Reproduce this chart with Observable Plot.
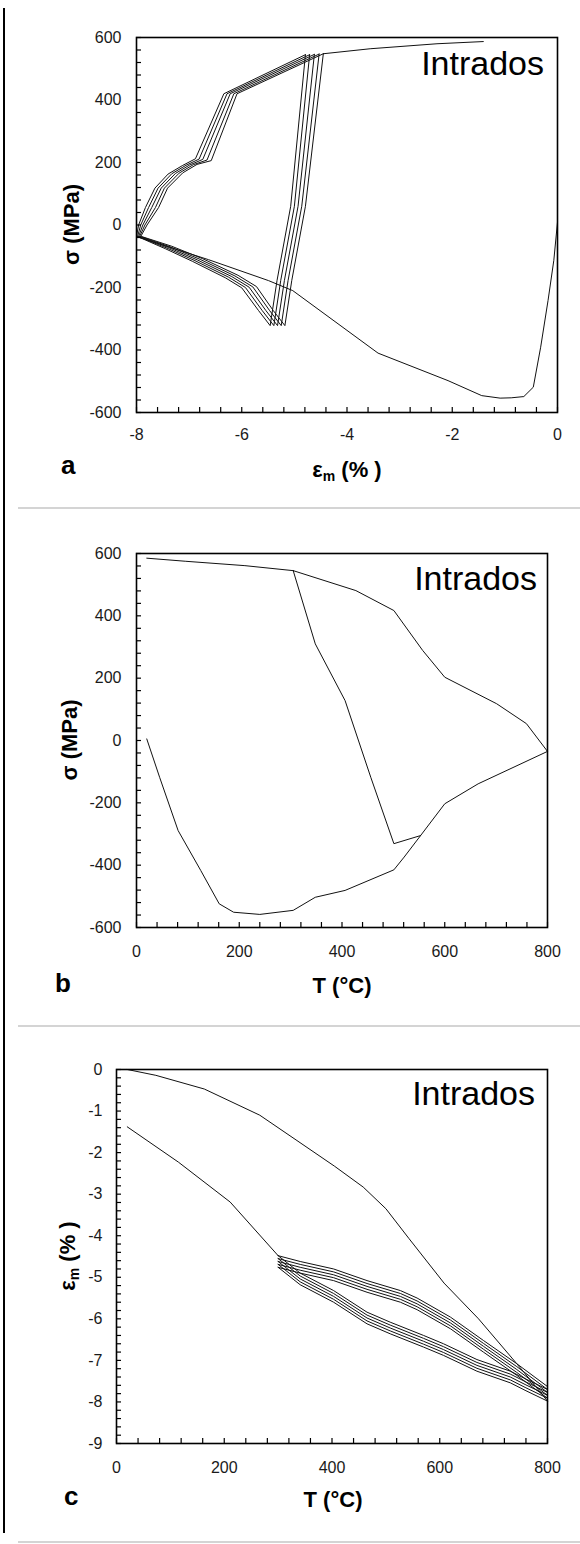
<!DOCTYPE html>
<html>
<head>
<meta charset="utf-8">
<script src="https://cdn.jsdelivr.net/npm/d3@7"></script>
<script src="https://cdn.jsdelivr.net/npm/@observablehq/plot@0.6"></script>
<style>
  body { margin: 0; background: #fff; }
  #root { position: relative; width: 580px; height: 1544px; overflow: hidden; background: #fff; }
  .panel { position: absolute; left: 0; }
  .panel svg { display: block; }
  .sep { position: absolute; left: 18px; width: 562px; height: 2px; background: #d4d4d4; }
  .bar { position: absolute; left: 3px; top: 8px; width: 2px; height: 1525px; background: #000; }
</style>
</head>
<body>
<div id="root">
  <div class="bar"></div>
  <div class="sep" style="top:507px"></div>
  <div class="sep" style="top:1025px"></div>
  <div class="sep" style="top:1541px"></div>
  <div class="panel" id="pa" style="top:0px"></div>
  <div class="panel" id="pb" style="top:510px"></div>
  <div class="panel" id="pc" style="top:1027px"></div>
</div>
<script>
// ---------------- Panel a : sigma (MPa) vs eps_m (%) ----------------
const aXTicks = [-8, -6, -4, -2, 0];
const aYTicks = [-600, -400, -200, 0, 200, 400, 600];
const aFirstHeating = [[0,9],[-0.07,-113],[-0.18,-242],[-0.32,-391],[-0.46,-519],[-0.64,-549],[-0.88,-553],[-1.09,-554],[-1.44,-546],[-2.08,-498],[-3.41,-410],[-5.03,-210],[-5.49,-178],[-6.63,-111],[-8.00,-37]];
const aCooling1 = [[-8.00,-37],[-7.96,0],[-7.83,56],[-7.65,118],[-7.40,163],[-7.13,190],[-6.88,212],[-6.34,420],[-4.79,545]];
const aCooling2 = [[-7.98,-37],[-7.92,0],[-7.77,56],[-7.59,118],[-7.33,164],[-7.06,191],[-6.81,211],[-6.28,420],[-4.71,545]];
const aCooling3 = [[-7.96,-37],[-7.88,0],[-7.71,56],[-7.53,118],[-7.26,165],[-6.99,192],[-6.74,210],[-6.22,420],[-4.62,546]];
const aCooling4 = [[-7.94,-37],[-7.84,0],[-7.64,56],[-7.47,118],[-7.19,166],[-6.92,193],[-6.66,208],[-6.15,420],[-4.53,547]];
const aCooling5 = [[-7.92,-37],[-7.80,0],[-7.58,56],[-7.41,118],[-7.12,167],[-6.85,194],[-6.58,206],[-6.09,420],[-4.45,548]];
const aReheat1 = [[-4.79,545],[-5.07,60],[-5.33,-178],[-5.46,-322],[-5.68,-274],[-6.00,-201],[-6.31,-169],[-6.94,-116],[-7.45,-76],[-7.98,-37]];
const aReheat2 = [[-4.71,545],[-5.00,60],[-5.26,-178],[-5.39,-322],[-5.61,-274],[-5.93,-200],[-6.25,-167],[-6.89,-114],[-7.42,-74],[-7.96,-37]];
const aReheat3 = [[-4.62,546],[-4.93,60],[-5.19,-178],[-5.32,-322],[-5.54,-274],[-5.86,-199],[-6.19,-165],[-6.84,-112],[-7.39,-72],[-7.94,-37]];
const aReheat4 = [[-4.53,547],[-4.86,60],[-5.12,-178],[-5.25,-322],[-5.47,-274],[-5.79,-198],[-6.13,-163],[-6.79,-110],[-7.36,-70],[-7.92,-37]];
const aReheat5 = [[-4.45,548],[-4.79,60],[-5.05,-178],[-5.18,-322],[-5.40,-274],[-5.72,-197],[-6.07,-161],[-6.74,-108],[-7.33,-68],[-7.90,-37]];
const aFinalCooling = [[-4.45,548],[-3.56,564],[-2.29,580],[-1.41,587]];

// ---------------- Panel b : sigma (MPa) vs T (°C) ----------------
const bXTicks = [0, 200, 400, 600, 800];
const bYTicks = [-600, -400, -200, 0, 200, 400, 600];
const bFirstHeating = [[20,5],[45,-118],[81,-289],[125,-417],[161,-524],[189,-551],[240,-558],[305,-545],[348,-503],[406,-481],[501,-415],[521,-374],[553,-305],[600,-203],[665,-139],[800,-35]];
const bCooling = [[800,-35],[759,54],[701,118],[600,203],[557,289],[501,417],[427,481],[305,545]];
const bReheat = [[305,545],[348,310],[406,128],[456,-118],[501,-331],[553,-305]];
const bFinalCooling = [[305,545],[211,561],[96,575],[20,585]];

// ---------------- Panel c : eps_m (%) vs T (°C) ----------------
const cXTicks = [0, 200, 400, 600, 800];
const cYTicks = [-9, -8, -7, -6, -5, -4, -3, -2, -1, 0];
const cFirstHeating = [[20,0],[73,-0.14],[163,-0.47],[266,-1.10],[335,-1.71],[405,-2.33],[458,-2.83],[500,-3.35],[543,-4.07],[608,-5.14],[672,-6.00],[743,-7.08],[770,-7.50],[800,-7.98]];
const cCooling1 = [[800,-7.98],[760,-7.73],[731,-7.54],[669,-7.26],[607,-6.88],[570,-6.68],[508,-6.36],[465,-6.12],[403,-5.60],[341,-5.18],[300,-4.76]];
const cCooling2 = [[800,-7.91],[760,-7.66],[731,-7.47],[669,-7.19],[607,-6.81],[570,-6.61],[508,-6.29],[465,-6.05],[403,-5.53],[341,-5.11],[300,-4.69]];
const cCooling3 = [[800,-7.84],[760,-7.59],[731,-7.40],[669,-7.12],[607,-6.74],[570,-6.54],[508,-6.22],[465,-5.98],[403,-5.46],[341,-5.04],[300,-4.62]];
const cCooling4 = [[800,-7.77],[760,-7.52],[731,-7.33],[669,-7.05],[607,-6.67],[570,-6.47],[508,-6.15],[465,-5.91],[403,-5.39],[341,-4.97],[300,-4.55]];
const cCooling5 = [[800,-7.70],[760,-7.45],[731,-7.26],[669,-6.98],[607,-6.60],[570,-6.40],[508,-6.08],[465,-5.84],[403,-5.32],[341,-4.90],[300,-4.48]];
const cReheat1 = [[300,-4.76],[341,-4.90],[403,-5.08],[465,-5.36],[527,-5.60],[558,-5.78],[620,-6.24],[681,-6.80],[743,-7.36],[800,-7.91]];
const cReheat2 = [[300,-4.69],[341,-4.83],[403,-5.01],[465,-5.29],[527,-5.53],[558,-5.71],[620,-6.17],[681,-6.73],[743,-7.29],[800,-7.84]];
const cReheat3 = [[300,-4.62],[341,-4.76],[403,-4.94],[465,-5.22],[527,-5.46],[558,-5.64],[620,-6.10],[681,-6.66],[743,-7.22],[800,-7.77]];
const cReheat4 = [[300,-4.55],[341,-4.69],[403,-4.87],[465,-5.15],[527,-5.39],[558,-5.57],[620,-6.03],[681,-6.59],[743,-7.15],[800,-7.70]];
const cReheat5 = [[300,-4.48],[341,-4.62],[403,-4.80],[465,-5.08],[527,-5.32],[558,-5.50],[620,-5.96],[681,-6.52],[743,-7.08],[800,-7.63]];
const cFinalCooling = [[300,-4.48],[211,-3.19],[115,-2.23],[20,-1.38]];

// ---------------- helpers ----------------
function rows(list) {
  return list.flatMap(([name, pts]) => pts.map(([x, y], i) => ({series: name, i, x, y})));
}
const FONT = "'Liberation Sans', Arial, Helvetica, sans-serif";
const TICK = 5;

function panel({table, xDomain, yDomain, xTicks, yTicks, xMinor, yMinor, height, mt, mb, ml, mr, xPad, yPad}) {
  return Plot.plot({
    width: 580, height,
    marginTop: mt, marginBottom: mb, marginLeft: ml, marginRight: mr,
    x: {domain: xDomain},
    y: {domain: yDomain},
    style: {fontFamily: FONT, fontSize: "16px", color: "#1a1a1a", background: "transparent", overflow: "visible"},
    marks: [
      Plot.line(table, {x: "x", y: "y", z: "series", stroke: "#111", strokeWidth: 1, curve: "linear"}),
      Plot.frame({stroke: "#000", strokeWidth: 1.6}),
      // inward minor ticks: draw outward ticks then shift them inside the frame
      Plot.axisY(yMinor, {anchor: "left", tickSize: TICK, dx: TICK, tickFormat: () => "", label: null, strokeWidth: 1.2, stroke: "#000"}),
      Plot.axisX(xMinor, {anchor: "bottom", tickSize: TICK, dy: -TICK, tickFormat: () => "", label: null, strokeWidth: 1.2, stroke: "#000"}),
      Plot.axisY(yTicks, {anchor: "left", tickSize: 0, tickPadding: yPad, tickFormat: d => String(d), label: null, fill: "#1a1a1a"}),
      Plot.axisX(xTicks, {anchor: "bottom", tickSize: 0, tickPadding: xPad, tickFormat: d => String(d), label: null, fill: "#1a1a1a"})
    ]
  });
}

function addText(svg, {x, y, text, size, weight = "normal", anchor = "start", rotate = 0}) {
  const t = d3.select(svg).append("text")
    .attr("transform", `translate(${x},${y})` + (rotate ? ` rotate(${rotate})` : ""))
    .attr("text-anchor", anchor)
    .attr("font-family", FONT)
    .attr("font-size", size)
    .attr("font-weight", weight)
    .attr("fill", "#000");
  if (Array.isArray(text)) {
    for (const part of text) {
      const s = t.append("tspan").text(part.t);
      if (part.size) s.attr("font-size", part.size);
      if (part.dy) s.attr("dy", part.dy);
    }
  } else {
    t.text(text);
  }
  return t;
}
const epsTitle = [{t: "ε"}, {t: "m", size: 14, dy: 4}, {t: " (% )", dy: -4}];

// ---------------- Panel a ----------------
const aTable = rows([
  ["firstHeating", aFirstHeating],
  ["cool1", aCooling1], ["cool2", aCooling2], ["cool3", aCooling3], ["cool4", aCooling4], ["cool5", aCooling5],
  ["reheat1", aReheat1], ["reheat2", aReheat2], ["reheat3", aReheat3], ["reheat4", aReheat4], ["reheat5", aReheat5],
  ["finalCooling", aFinalCooling]
]);
const svgA = panel({
  table: aTable, xDomain: [-8, 0], yDomain: [-600, 600],
  xTicks: aXTicks, yTicks: aYTicks,
  xMinor: d3.range(0, 21).map(i => -8 + i * 0.4), yMinor: d3.range(0, 31).map(i => -600 + i * 40),
  height: 508, mt: 37, mb: 96, ml: 136, mr: 23, xPad: 16, yPad: 15
});
addText(svgA, {x: 544, y: 75, text: "Intrados", size: 34, anchor: "end"});
addText(svgA, {x: 347, y: 477, text: epsTitle, size: 22, weight: "bold", anchor: "middle"});
addText(svgA, {x: 79, y: 224.5, text: "σ (MPa)", size: 22, weight: "bold", anchor: "middle", rotate: -90});
addText(svgA, {x: 61, y: 474, text: "a", size: 26, weight: "bold"});
document.getElementById("pa").appendChild(svgA);

// ---------------- Panel b ----------------
const bTable = rows([
  ["firstHeating", bFirstHeating], ["cooling", bCooling], ["reheat", bReheat], ["finalCooling", bFinalCooling]
]);
const svgB = panel({
  table: bTable, xDomain: [0, 800], yDomain: [-600, 600],
  xTicks: bXTicks, yTicks: bYTicks,
  xMinor: d3.range(0, 21).map(i => i * 40), yMinor: d3.range(0, 31).map(i => -600 + i * 40),
  height: 515, mt: 43, mb: 98, ml: 136, mr: 33, xPad: 18, yPad: 15
});
addText(svgB, {x: 537, y: 80, text: "Intrados", size: 34, anchor: "end"});
addText(svgB, {x: 342, y: 483, text: "T (°C)", size: 22, weight: "bold", anchor: "middle"});
addText(svgB, {x: 77, y: 230, text: "σ (MPa)", size: 22, weight: "bold", anchor: "middle", rotate: -90});
addText(svgB, {x: 55, y: 482, text: "b", size: 26, weight: "bold"});
document.getElementById("pb").appendChild(svgB);

// ---------------- Panel c ----------------
const cTable = rows([
  ["firstHeating", cFirstHeating],
  ["cool1", cCooling1], ["cool2", cCooling2], ["cool3", cCooling3], ["cool4", cCooling4], ["cool5", cCooling5],
  ["reheat1", cReheat1], ["reheat2", cReheat2], ["reheat3", cReheat3], ["reheat4", cReheat4], ["reheat5", cReheat5],
  ["finalCooling", cFinalCooling]
]);
const svgC = panel({
  table: cTable, xDomain: [0, 800], yDomain: [-9, 0],
  xTicks: cXTicks, yTicks: cYTicks,
  xMinor: d3.range(0, 21).map(i => i * 40), yMinor: d3.range(0, 46).map(i => -9 + i * 0.2),
  height: 517, mt: 42, mb: 101, ml: 116, mr: 33, xPad: 18, yPad: 14
});
addText(svgC, {x: 535, y: 78, text: "Intrados", size: 34, anchor: "end"});
addText(svgC, {x: 333, y: 480, text: "T (°C)", size: 22, weight: "bold", anchor: "middle"});
addText(svgC, {x: 75, y: 229, text: epsTitle, size: 22, weight: "bold", anchor: "middle", rotate: -90});
addText(svgC, {x: 64, y: 478, text: "c", size: 26, weight: "bold"});
document.getElementById("pc").appendChild(svgC);
</script>
</body>
</html>
